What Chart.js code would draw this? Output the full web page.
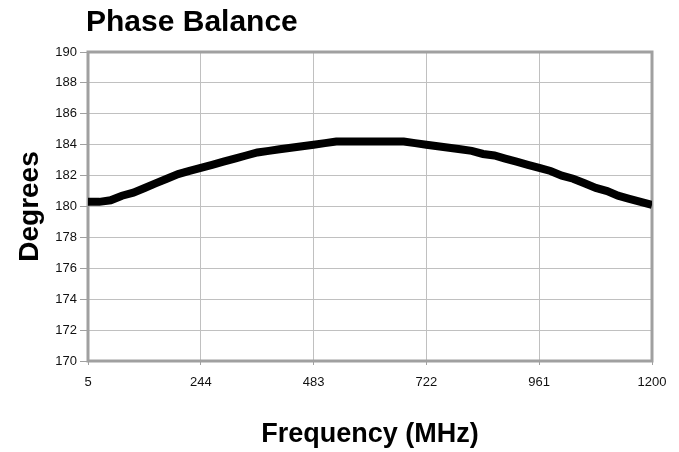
<!DOCTYPE html>
<html>
<head>
<meta charset="utf-8">
<script src="https://cdn.jsdelivr.net/npm/chart.js@4.4.1/dist/chart.umd.min.js"></script>
<style>
  html, body { margin: 0; padding: 0; background: #fff; }
  #wrap { width: 679px; height: 452px; }
</style>
</head>
<body>
<div id="wrap"><canvas id="phaseChart" width="679" height="452"></canvas></div>
<script>
// frequency points (MHz) and phase balance (degrees)
const freqs = [5, 29, 53, 77, 101, 125, 148, 172, 196, 220, 244, 268, 292, 316, 340, 364, 388, 411, 435, 459,
  483, 507, 531, 555, 579, 603, 627, 650, 674, 698, 722, 746, 770, 794, 818, 842, 866, 889, 913, 937,
  961, 985, 1009, 1033, 1057, 1081, 1105, 1128, 1152, 1176, 1200];
const degrees = [180.3, 180.3, 180.4, 180.7, 180.9, 181.2, 181.5, 181.8, 182.1, 182.3, 182.5, 182.7, 182.9, 183.1, 183.3, 183.5, 183.6, 183.7, 183.8, 183.9,
  184.0, 184.1, 184.2, 184.2, 184.2, 184.2, 184.2, 184.2, 184.2, 184.1, 184.0, 183.9, 183.8, 183.7, 183.6, 183.4, 183.3, 183.1, 182.9, 182.7,
  182.5, 182.3, 182.0, 181.8, 181.5, 181.2, 181.0, 180.7, 180.5, 180.3, 180.1];
const xTicks = [5, 244, 483, 722, 961, 1200];
const yMin = 170, yMax = 190, yStep = 2;

// frame around the plot area + title drawn at left of plot
const framePlugin = {
  id: 'frame',
  beforeDatasetsDraw(chart) {
    const a = chart.chartArea, c = chart.ctx;
    c.save();
    c.strokeStyle = '#a0a0a0';
    c.lineWidth = 3;
    c.strokeRect(a.left, a.top, a.right - a.left, a.bottom - a.top);
    c.restore();
  },
  afterDraw(chart) {
    const c = chart.ctx;
    c.save();
    c.fillStyle = '#000';
    c.font = 'bold 30px "Liberation Sans", Arial, sans-serif';
    c.textBaseline = 'alphabetic';
    c.fillText('Phase Balance', 86, 31);
    c.restore();
  }
};

new Chart(document.getElementById('phaseChart'), {
  type: 'line',
  data: {
    datasets: [{
      label: 'Phase Balance',
      data: freqs.map((f, i) => ({ x: f, y: degrees[i] })),
      borderColor: '#000',
      backgroundColor: '#000',
      borderWidth: 8,
      pointRadius: 0,
      tension: 0
    }]
  },
  plugins: [framePlugin],
  options: {
    responsive: false,
    animation: false,
    layout: { padding: { top: 52, right: 27, bottom: 1, left: 0 } },
    plugins: { legend: { display: false }, tooltip: { enabled: false } },
    scales: {
      x: {
        type: 'linear',
        min: 5,
        max: 1200,
        afterBuildTicks: s => { s.ticks = xTicks.map(v => ({ value: v })); },
        afterFit: s => { s.height = 452 - 361 - 1; },
        grid: { color: '#c0c0c0', lineWidth: 1, tickLength: 4, tickColor: '#a0a0a0' },
        border: { display: false },
        ticks: { color: '#111', padding: 10, maxRotation: 0, autoSkip: false,
          callback: v => String(v),
          font: { family: '"Liberation Sans", Arial, sans-serif', size: 13 } },
        title: { display: true, text: 'Frequency (MHz)', color: '#000', padding: { top: 0, bottom: 0 },
          font: { family: '"Liberation Sans", Arial, sans-serif', size: 27, weight: 'bold' } }
      },
      y: {
        min: yMin,
        max: yMax,
        afterFit: s => { s.width = 88; },
        grid: { color: '#c0c0c0', lineWidth: 1, tickLength: 8, tickColor: '#a0a0a0' },
        border: { display: false },
        ticks: { stepSize: yStep, color: '#111', padding: 3,
          font: { family: '"Liberation Sans", Arial, sans-serif', size: 13 } },
        title: { display: true, text: 'Degrees', color: '#000', padding: { top: 13, bottom: 0 },
          font: { family: '"Liberation Sans", Arial, sans-serif', size: 28, weight: 'bold' } }
      }
    }
  }
});
</script>
</body>
</html>
